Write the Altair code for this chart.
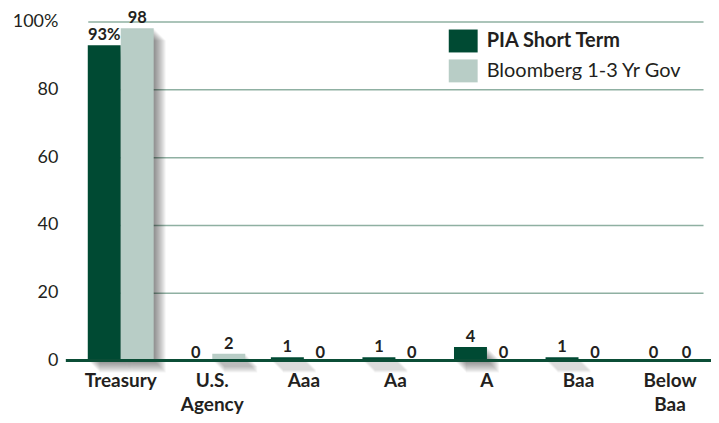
import altair as alt
import pandas as pd

categories = ["Treasury", "U.S. Agency", "Aaa", "Aa", "A", "Baa", "Below Baa"]
series_names = ["PIA Short Term", "Bloomberg 1-3 Yr Gov"]
pia = [93, 0, 1, 1, 4, 1, 0]
bbg = [98, 2, 0, 0, 0, 0, 0]
colors = ["#004a33", "#b8cdc6"]
y_ticks = [0, 10, 20, 30, 40, 50, 60, 70, 80, 90, 100]

rows = []
for i, c in enumerate(categories):
    for s, vals in zip(series_names, [pia, bbg]):
        v = vals[i]
        lab = f"{v}%" if (i == 0 and s == series_names[0]) else str(v)
        rows.append({"cat": c, "series": s, "value": v, "label": lab})
df = pd.DataFrame(rows)

FONT = "Lato"
TXT = "#231f20"

xscale = alt.Scale(range=[20, 637], paddingInner=0.28, paddingOuter=0)
xaxis = alt.Axis(labelExpr="split(datum.label, ' ')", labelAngle=0, labelAlign="center",
                 domain=False, ticks=False, labelFont=FONT,
                 labelFontSize=19, labelFontWeight="bold",
                 labelColor=TXT, labelPadding=11, labelLineHeight=24,
                 labelBaseline="top")
xenc = alt.X("cat:N", sort=categories, title=None, scale=xscale, axis=xaxis)
yaxis = alt.Axis(values=y_ticks, domain=False, ticks=False,
                 labelExpr="datum.value % 20 == 0 ? (datum.value == 100 ? '100%' : datum.label) : ''",
                 labelFont=FONT, labelFontSize=18, labelColor=TXT,
                 labelPadding=10, gridColor="#8fb0a2", gridWidth=1.5,
                 gridOpacity=1)
yenc = alt.Y("value:Q", title=None, scale=alt.Scale(domain=[0, 100], nice=False), axis=yaxis)
off = alt.XOffset("series:N", sort=series_names)
color = alt.Color("series:N", sort=series_names,
                  scale=alt.Scale(domain=series_names, range=colors),
                  legend=alt.Legend(title=None, orient="none", legendX=385, legendY=8,
                                    symbolType="M-1.26,-1L1.26,-1L1.26,1L-1.26,1Z",
                                    symbolSize=529, symbolStrokeWidth=0,
                                    symbolOpacity=1, rowPadding=7, labelOffset=12,
                                    labelFont=FONT, labelFontSize=20, labelColor=TXT,
                                    labelLimit=400,
                                    labelFontWeight=alt.ExprRef(expr="datum.label == 'PIA Short Term' ? 'bold' : 'normal'"),
                                    padding=0))

base = alt.Chart(df)

# soft drop shadow (right/bottom) behind each bar: stacked faint offset copies
shadow_layers = []
for si, s in enumerate(series_names):
    sb = base.transform_filter(f"datum.series == '{s}' && datum.value > 0")
    b0, b1 = (0.0, 0.5) if si == 0 else (0.5, 1.0)
    for k in range(1, 13):
        shadow_layers.append(
            sb.mark_rect(color="#000000", opacity=0.045, xOffset=k, x2Offset=k,
                         yOffset=k, y2Offset=k).encode(
                x=alt.X("cat:N", sort=categories, title=None, scale=xscale, axis=xaxis,
                        bandPosition=b0),
                x2=alt.X2(field="cat", bandPosition=b1),
                y=yenc, y2=alt.datum(0))
        )

bars = base.mark_bar().encode(x=xenc, y=yenc, xOffset=off, color=color)
txt_nz = base.transform_filter("datum.value > 0").mark_text(
    baseline="bottom", dy=-2, font=FONT, fontSize=16.5, fontWeight="bold", color=TXT
).encode(x=xenc, y=yenc, xOffset=off, text="label:N")
txt_z = base.transform_filter("datum.value == 0").mark_text(
    baseline="bottom", dy=0, font=FONT, fontSize=16.5, fontWeight="bold", color=TXT
).encode(x=xenc, y=yenc, xOffset=off, text="label:N")
zero = alt.Chart(pd.DataFrame({"z": [0]})).mark_rule(color="#0b4d36", strokeWidth=3).encode(
    y=alt.Y("z:Q", scale=alt.Scale(domain=[0, 100], nice=False)), x=alt.value(-2), x2=alt.value(647))

chart = alt.layer(*shadow_layers, bars, zero, txt_nz, txt_z).properties(
    width=645, height=340,
    autosize=alt.AutoSizeParams(type="none"),
    padding={"left": 60, "top": 13, "right": 0, "bottom": 54},
).configure_view(stroke=None)

chart.save("out.html", embed_options={"renderer": "svg", "actions": False})
